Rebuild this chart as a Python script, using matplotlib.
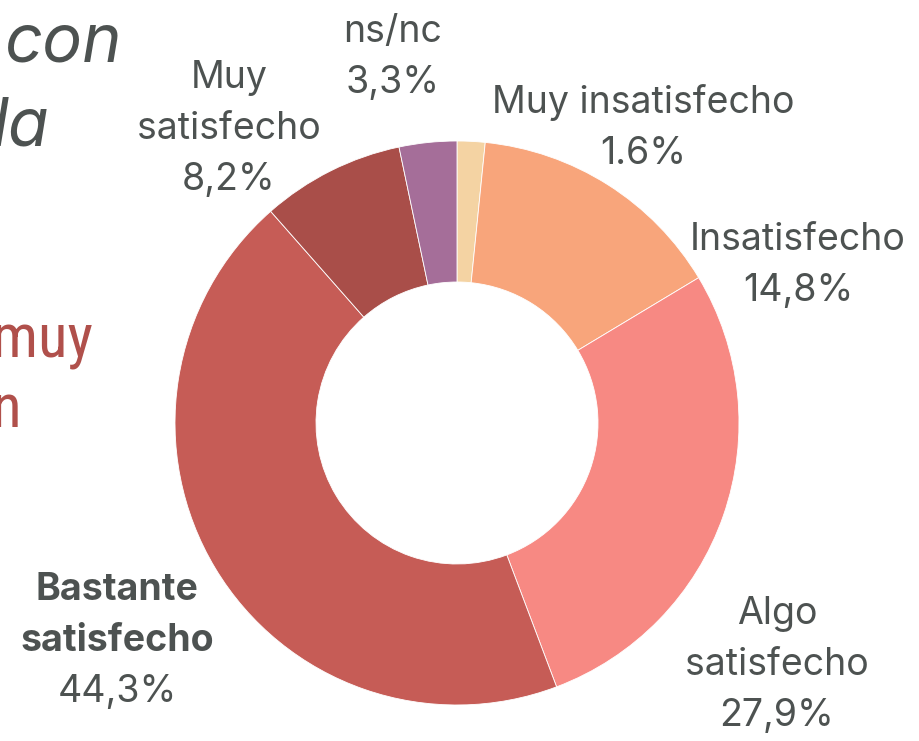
import matplotlib
matplotlib.use("Agg")
import matplotlib.pyplot as plt
from matplotlib import font_manager

# Datos
categorias = ["Muy insatisfecho", "Insatisfecho", "Algo\nsatisfecho",
              "Bastante\nsatisfecho", "Muy\nsatisfecho", "ns/nc"]
valores = [1.6, 14.8, 27.9, 44.3, 8.2, 3.3]
etiquetas_pct = ["1.6%", "14,8%", "27,9%", "44,3%", "8,2%", "3,3%"]
colores = ["#F4D3A3", "#F8A57B", "#F78983", "#C65C56", "#A94E49", "#A56E99"]

GRIS = "#4D5251"
ROJO = "#B0504B"
FUENTE = ["Inter", "DejaVu Sans"]

# fuente estrecha para el texto rojo
nombres = {f.name for f in font_manager.fontManager.ttflist}
ESTRECHA = [n for n in ["Roboto Condensed", "Liberation Sans Narrow", "DejaVu Sans"]
            if n in nombres]

W, H = 920, 741
fig = plt.figure(figsize=(W / 100, H / 100), dpi=100)
fig.patch.set_facecolor("white")

# centro y radio del donut en pixeles
cx, cy, r = 457, 423, 282
ax = fig.add_axes([(cx - r) / W, (H - cy - r) / H, 2 * r / W, 2 * r / H])
ax.pie(valores, colors=colores, startangle=90, counterclock=False, radius=1,
       wedgeprops=dict(width=0.5, edgecolor="white", linewidth=0.6))
ax.set_xlim(-1, 1)
ax.set_ylim(-1, 1)
ax.set_aspect("equal")
ax.axis("off")


def px(x, y):
    return (x - cx) / r, (cy - y) / r


# posicion de la primera linea de cada etiqueta (pixeles)
pos_etiquetas = [(643, 103), (798, 240), (777, 614), (117, 590), (229, 78), (393, 32)]
paso = 51
for cat, pct, (x, y), i in zip(categorias, etiquetas_pct, pos_etiquetas, range(6)):
    lineas = cat.split("\n")
    peso = "bold" if i == 3 else "normal"
    for k, lin in enumerate(lineas):
        xd, yd = px(x, y + k * paso)
        ax.text(xd, yd, lin, ha="center", va="center", fontsize=27,
                color=GRIS, family=FUENTE, fontweight=peso)
    xd, yd = px(x, y + len(lineas) * paso)
    ax.text(xd, yd, pct, ha="center", va="center", fontsize=27,
            color=GRIS, family=FUENTE)

# linea guia ns/nc
x0, y0 = px(413, 112)
x1, y1 = px(425, 138)
ax.plot([x0, x1], [y0, y1], color="black", lw=2.5, solid_capstyle="butt")

# fragmentos de texto cortados a la izquierda
fig.text(122 / W, (H - 62) / H, "con", ha="right", va="baseline", fontsize=48,
         style="italic", color=GRIS, family=FUENTE)
fig.text(50 / W, (H - 145) / H, "da", ha="right", va="baseline", fontsize=48,
         style="italic", color=GRIS, family=FUENTE)
fig.text(93 / W, (H - 358) / H, "muy", ha="right", va="baseline", fontsize=44,
         color=ROJO, family=ESTRECHA, fontstretch="condensed")
fig.text(22 / W, (H - 427) / H, "n", ha="right", va="baseline", fontsize=44,
         color=ROJO, family=ESTRECHA, fontstretch="condensed")

fig.savefig("out.png", dpi=100, facecolor="white")
